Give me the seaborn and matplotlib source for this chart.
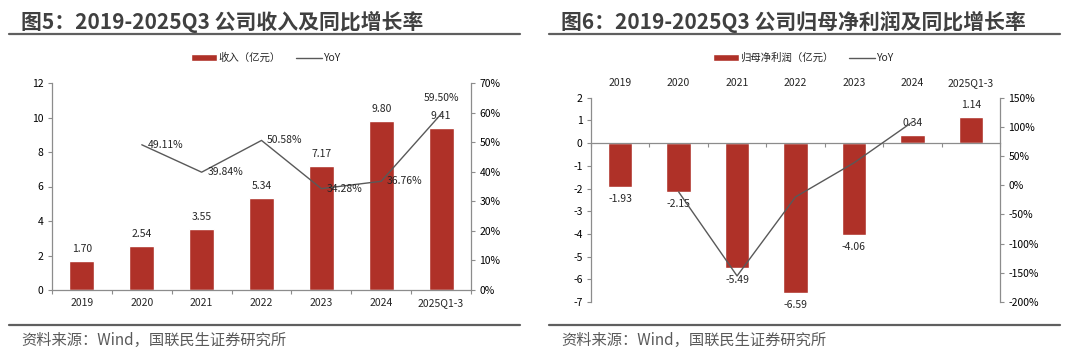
import numpy as np
import pandas as pd
import seaborn as sns
import matplotlib
matplotlib.use("Agg")
import matplotlib.pyplot as plt
from matplotlib.lines import Line2D
from matplotlib.patches import Patch
from matplotlib.ticker import FuncFormatter

# 数据
years = ["2019", "2020", "2021", "2022", "2023", "2024", "2025Q1-3"]
revenue = [1.70, 2.54, 3.55, 5.34, 7.17, 9.80, 9.41]
revenue_yoy = [np.nan, 49.11, 39.84, 50.58, 34.28, 36.76, 59.50]
profit = [-1.93, -2.15, -5.49, -6.59, -4.06, 0.34, 1.14]
profit_yoy = [np.nan, -11.40, -155.35, -20.04, 38.39, 108.37, np.nan]

title_left = "图5：2019-2025Q3 公司收入及同比增长率"
title_right = "图6：2019-2025Q3 公司归母净利润及同比增长率"
source = "资料来源：Wind，国联民生证券研究所"

RED = "#AF3128"
LINE = "#595959"
AXC = "#8C8C8C"

sns.set_style("white")
plt.rcParams['font.family'] = ['Noto Sans CJK SC', 'DejaVu Sans']
plt.rcParams['axes.unicode_minus'] = False

fig = plt.figure(figsize=(10.8, 3.56), dpi=100)
W, H = 1080, 356


def style_axes(ax, ax2):
    for a in (ax, ax2):
        for s in a.spines.values():
            s.set_color(AXC)
            s.set_linewidth(0.9)
        a.spines['top'].set_visible(False)
    ax.spines['right'].set_visible(False)
    ax2.spines['left'].set_visible(False)
    ax2.spines['bottom'].set_visible(False)
    ax.tick_params(axis='y', direction='out', length=3, width=0.8, color=AXC,
                   labelsize=7.5, labelcolor='black', pad=3, left=True)
    ax2.tick_params(axis='y', direction='out', length=3, width=0.8, color=AXC,
                    labelsize=7.5, labelcolor='black', pad=3, right=True)
    ax.set_xticks(np.arange(len(years) + 1) - 0.5, minor=True)
    ax.tick_params(axis='x', which='minor', direction='out', length=3, width=0.8,
                   color=AXC, bottom=True)
    ax.set_xlabel("")
    ax.set_ylabel("")
    ax2.set_ylabel("")


def add_frame(x0, title):
    fig.text((x0 + 21) / W, 1 - 22 / H, title, fontsize=15, fontweight='bold',
             color='#404040', ha='left', va='center')
    fig.add_artist(Line2D([(x0 + 9) / W, (x0 + 520) / W], [1 - 33.5 / H] * 2,
                          color='#5f5f5f', lw=1.6))
    fig.add_artist(Line2D([(x0 + 9) / W, (x0 + 520) / W], [1 - 325 / H] * 2,
                          color='#5f5f5f', lw=1.6))
    fig.text((x0 + 21) / W, 1 - 340 / H, source, fontsize=11,
             color='#5a5a5a', ha='left', va='center')


pos = np.arange(len(years))
pct = FuncFormatter(lambda v, _: f"{v:.0f}%")

# ---- 左图：收入 ----
ax = fig.add_axes([52 / W, 1 - 290 / H, 419 / W, 207 / H])
sns.barplot(x=years, y=revenue, ax=ax, color=RED, width=0.42, saturation=1)
ax2 = ax.twinx()
sns.lineplot(x=pos, y=revenue_yoy, ax=ax2, color=LINE, linewidth=1.0)
ax.set_ylim(0, 12)
ax.set_yticks(np.arange(0, 13, 2))
ax2.set_ylim(0, 70)
ax2.set_yticks(np.arange(0, 71, 10))
ax2.yaxis.set_major_formatter(pct)
ax.set_xlim(-0.5, len(years) - 0.5)
style_axes(ax, ax2)
ax.tick_params(axis='x', which='major', length=0, labelsize=7.5, pad=6)
ax.bar_label(ax.containers[0], fmt='%.2f', padding=5, fontsize=7.5)
for i, v in zip(pos, revenue_yoy):
    if np.isnan(v):
        continue
    if i == len(years) - 1:
        ax2.annotate(f"{v:.2f}%", (i, v), xytext=(0, 8), textcoords='offset points',
                     ha='center', va='bottom', fontsize=7.5)
    else:
        ax2.annotate(f"{v:.2f}%", (i, v), xytext=(4, 0), textcoords='offset points',
                     ha='left', va='center', fontsize=7.5)
fig.legend([Patch(facecolor=RED), Line2D([], [], color=LINE, lw=1.0)],
           ["收入（亿元）", "YoY"], loc='center', bbox_to_anchor=(266 / W, 1 - 58 / H),
           ncol=2, frameon=False, fontsize=7.5, handlelength=2.5, handleheight=0.6,
           handletextpad=0.1, columnspacing=1.5)
add_frame(0, title_left)

# ---- 右图：归母净利润 ----
bx = fig.add_axes([591 / W, 1 - 302 / H, 409 / W, 204.3 / H])
sns.barplot(x=years, y=profit, ax=bx, color=RED, width=0.42, saturation=1)
bx2 = bx.twinx()
sns.lineplot(x=pos, y=profit_yoy, ax=bx2, color=LINE, linewidth=1.0)
bx.set_ylim(-7, 2)
bx.set_yticks(np.arange(-7, 3, 1))
bx2.set_ylim(-200, 150)
bx2.set_yticks(np.arange(-200, 151, 50))
bx2.yaxis.set_major_formatter(pct)
bx.set_xlim(-0.5, len(years) - 0.5)
style_axes(bx, bx2)
bx.spines['bottom'].set_position(('data', 0))
bx.tick_params(axis='x', which='major', length=0, top=False, bottom=False,
               labeltop=True, labelbottom=False, labelsize=7.5, pad=7)
bx.bar_label(bx.containers[0], fmt='%.2f', padding=5, fontsize=7.5)
fig.legend([Patch(facecolor=RED), Line2D([], [], color=LINE, lw=1.0)],
           ["归母净利润（亿元）", "YoY"], loc='center', bbox_to_anchor=(803 / W, 1 - 58 / H),
           ncol=2, frameon=False, fontsize=7.5, handlelength=2.5, handleheight=0.6,
           handletextpad=0.1, columnspacing=1.5)
add_frame(540, title_right)

fig.savefig("out.png", dpi=100)
